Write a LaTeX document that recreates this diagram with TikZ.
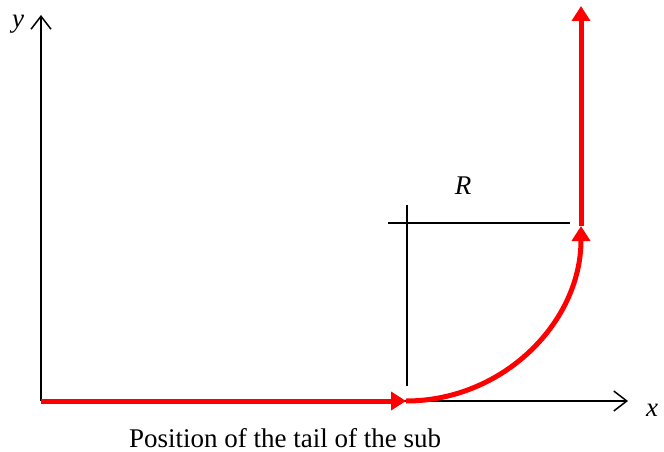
\documentclass[tikz,border=0pt]{standalone}
\usepackage{fontspec}
\setmainfont{Liberation Serif}
\usetikzlibrary{arrows.meta}
\begin{document}
\begin{tikzpicture}[x=1pt,y=-1pt,
  axisline/.style={line width=1.5pt,-{Straight Barb[length=13pt,width=20pt,line width=1.5pt]}},
  blackline/.style={line width=1.5pt},
  redpath/.style={draw=red,line width=5pt,-{Triangle[length=15pt,width=18pt]}},
  lbl/.style={font=\fontsize{27}{30}\selectfont\itshape,inner sep=0pt,anchor=base},
  captext/.style={font=\fontsize{27}{30}\selectfont,inner sep=0pt,anchor=base}]
\useasboundingbox (0,0) rectangle (664,452);
\coordinate (O) at (41,401);
\coordinate (ytip) at (41,15);
\coordinate (xtip) at (628,401);
\coordinate (A) at (406,401);
\coordinate (B) at (581,226);
\coordinate (T) at (581,6);
\coordinate (vt) at (407,205);
\coordinate (vb) at (407,386);
\coordinate (hl) at (388,223);
\coordinate (hr) at (570,223);
\draw[axisline] (O) -- (ytip);
\draw[axisline] (O) -- (xtip);
\draw[blackline] (vt) -- (vb);
\draw[blackline] (hl) -- (hr);
\draw[redpath] (O) -- (A);
\draw[redpath] (A) arc[start angle=90,end angle=0,radius=175];
\draw[redpath] (B) -- (T);
\node[lbl] (ylab) at (18,28) {y};
\node[lbl] (xlab) at (652,416) {x};
\node[lbl] (Rlab) at (463,194) {R};
\node[captext] (caption) at (285,447) {Position of the tail of the sub};
\end{tikzpicture}
\end{document}
